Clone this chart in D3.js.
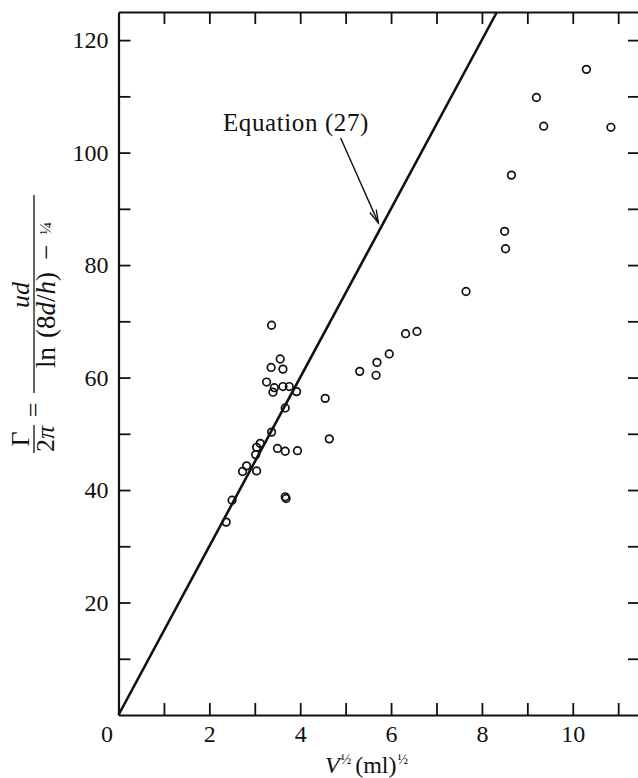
<!DOCTYPE html>
<html>
<head>
<meta charset="utf-8">
<script src="https://cdn.jsdelivr.net/npm/d3@7"></script>
<style>
body { margin: 0; background: #fff; }
svg text { font-family: "Liberation Serif", "Times New Roman", serif; fill: #111; }
</style>
</head>
<body>
<div id="chart"></div>
<script>

// V^(1/3) in (ml)^(1/3)
var volumeRoot = [2.37, 2.50, 2.73, 2.82, 3.04, 3.02, 3.04, 3.12, 3.37, 3.50,
    3.67, 3.94, 3.67, 3.69, 3.67, 3.26, 3.43, 3.40, 3.62, 3.76,
    3.92, 3.36, 3.62, 3.56, 3.37, 4.55, 4.64, 5.31, 5.67, 5.69,
    5.96, 6.32, 6.57, 7.65, 8.50, 8.52, 8.65, 9.20, 9.36, 10.30, 10.84];

// Gamma / 2 pi
var circulation = [34.3, 38.2, 43.3, 44.3, 43.4, 46.3, 47.6, 48.3, 50.3, 47.4,
    46.9, 47.0, 38.8, 38.5, 54.6, 59.2, 58.2, 57.4, 58.4, 58.4,
    57.5, 61.8, 61.5, 63.3, 69.3, 56.3, 49.1, 61.1, 60.4, 62.7,
    64.2, 67.8, 68.2, 75.3, 86.0, 82.9, 96.0, 109.8, 104.7, 114.8, 104.5];

// Equation (27)
var lineX = [0, 8.33];
var lineY = [0, 125];

var xTickLabels = [0, 2, 4, 6, 8, 10];
var yTickLabels = [20, 40, 60, 80, 100, 120];
var annotationText = "Equation (27)";
var arrowFrom = [4.89, 102.6];
var arrowTo = [5.72, 87.5];

var width = 638, height = 778;

var x = d3.scaleLinear().domain([0, 11.48]).range([118.5, 640]);
var y = d3.scaleLinear().domain([0, 125]).range([715, 12]);

var svg = d3.select("#chart")
    .append("svg")
    .attr("width", width)
    .attr("height", height);

var xTicks = d3.range(0, 12);
var yTicks = d3.range(10, 130, 10);

function styleAxis(g) {
    g.selectAll(".domain").attr("stroke", "#111").attr("stroke-width", 2.2);
    g.selectAll(".tick line").attr("stroke", "#111").attr("stroke-width", 1.8);
    g.selectAll(".tick text")
        .attr("font-family", "Liberation Serif, serif")
        .attr("font-size", 24)
        .attr("fill", "#111");
}

// bottom
var gx = svg.append("g")
    .attr("transform", "translate(0," + y(0) + ")")
    .call(d3.axisBottom(x)
        .tickValues(xTicks)
        .tickSize(-12)
        .tickSizeOuter(0)
        .tickPadding(10)
        .tickFormat(function(d) { return xTickLabels.indexOf(d) >= 0 ? d : ""; }))
    .call(styleAxis);
gx.selectAll(".tick").filter(function(d) { return d === 0; })
    .select("text").attr("dx", -12);
gx.selectAll(".tick").filter(function(d) { return d === 0; })
    .select("line").remove();

// left
svg.append("g")
    .attr("transform", "translate(" + x(0) + ",0)")
    .call(d3.axisLeft(y)
        .tickValues(yTicks)
        .tickSize(-12)
        .tickSizeOuter(0)
        .tickPadding(10)
        .tickFormat(function(d) { return yTickLabels.indexOf(d) >= 0 ? d : ""; }))
    .call(styleAxis);

// top
svg.append("g")
    .attr("transform", "translate(0," + y(125) + ")")
    .call(d3.axisTop(x)
        .tickValues(xTicks.slice(1))
        .tickSize(-12)
        .tickSizeOuter(0)
        .tickFormat(""))
    .call(styleAxis);

// right
svg.append("g")
    .attr("transform", "translate(" + x(11.48) + ",0)")
    .call(d3.axisRight(y)
        .tickValues(yTicks)
        .tickSize(-12)
        .tickSizeOuter(0)
        .tickFormat(""))
    .call(styleAxis);

// theoretical line
var line = d3.line()
    .x(function(d) { return x(d[0]); })
    .y(function(d) { return y(d[1]); });

svg.append("path")
    .datum(d3.zip(lineX, lineY))
    .attr("d", line)
    .attr("fill", "none")
    .attr("stroke", "#111")
    .attr("stroke-width", 2.6);

// measurements
svg.append("g")
    .selectAll("circle")
    .data(d3.zip(volumeRoot, circulation))
    .join("circle")
    .attr("cx", function(d) { return x(d[0]); })
    .attr("cy", function(d) { return y(d[1]); })
    .attr("r", 3.8)
    .attr("fill", "none")
    .attr("stroke", "#111")
    .attr("stroke-width", 1.7);

// annotation
svg.append("defs").append("marker")
    .attr("id", "head")
    .attr("markerUnits", "userSpaceOnUse")
    .attr("markerWidth", 20)
    .attr("markerHeight", 20)
    .attr("viewBox", "-16 -8 20 16")
    .attr("refX", 0)
    .attr("refY", 0)
    .attr("orient", "auto")
    .append("path")
    .attr("d", "M-13,-3.5 L0,0 L-13,3.5")
    .attr("fill", "none")
    .attr("stroke", "#111")
    .attr("stroke-width", 1.4);

svg.append("line")
    .attr("x1", x(arrowFrom[0]))
    .attr("y1", y(arrowFrom[1]))
    .attr("x2", x(arrowTo[0]))
    .attr("y2", y(arrowTo[1]))
    .attr("stroke", "#111")
    .attr("stroke-width", 1.4)
    .attr("marker-end", "url(#head)");

svg.append("text")
    .attr("x", x(2.30))
    .attr("y", y(103.8))
    .attr("font-size", 25)
    .attr("letter-spacing", 0.6)
    .text(annotationText);

// x label
var xl = svg.append("text")
    .attr("x", 325)
    .attr("y", 773)
    .attr("font-size", 24);
xl.append("tspan").attr("font-style", "italic").text("V");
xl.append("tspan").attr("font-size", 14).attr("dy", -9).attr("dx", 1).text("½");
xl.append("tspan").attr("dy", 9).attr("dx", 4).text("(ml)");
xl.append("tspan").attr("font-size", 14).attr("dy", -9).attr("dx", 1).text("½");

// y label, rotated
var yl = svg.append("g")
    .attr("transform", "translate(34,300) rotate(-90)");

// Gamma over 2 pi
yl.append("line")
    .attr("x1", -153).attr("x2", -125)
    .attr("y1", 0).attr("y2", 0)
    .attr("stroke", "#111").attr("stroke-width", 1.3);
yl.append("text")
    .attr("x", -139).attr("y", -5)
    .attr("text-anchor", "middle")
    .attr("font-size", 26)
    .text("Γ");
yl.append("text")
    .attr("x", -139).attr("y", 20)
    .attr("text-anchor", "middle")
    .attr("font-size", 26)
    .append("tspan").text("2")
    .append("tspan").attr("font-style", "italic").text("π");

yl.append("text")
    .attr("x", -110).attr("y", 8)
    .attr("text-anchor", "middle")
    .attr("font-size", 26)
    .text("=");

// ud over ln(8d/h) - 1/4
yl.append("line")
    .attr("x1", -93).attr("x2", 105)
    .attr("y1", 0).attr("y2", 0)
    .attr("stroke", "#111").attr("stroke-width", 1.3);
yl.append("text")
    .attr("x", 5).attr("y", -5)
    .attr("text-anchor", "middle")
    .attr("font-size", 26)
    .attr("font-style", "italic")
    .text("ud");
var den = yl.append("text")
    .attr("x", 5).attr("y", 21)
    .attr("text-anchor", "middle")
    .attr("font-size", 27);
den.append("tspan").text("ln");
den.append("tspan").attr("dx", 9).text("(8");
den.append("tspan").attr("font-style", "italic").text("d");
den.append("tspan").text("/");
den.append("tspan").attr("font-style", "italic").text("h");
den.append("tspan").text(")");
den.append("tspan").attr("dx", 12).text("−");
den.append("tspan").attr("dx", 10).attr("font-size", 17).attr("dy", -4).text("¼");

</script>
</body>
</html>
